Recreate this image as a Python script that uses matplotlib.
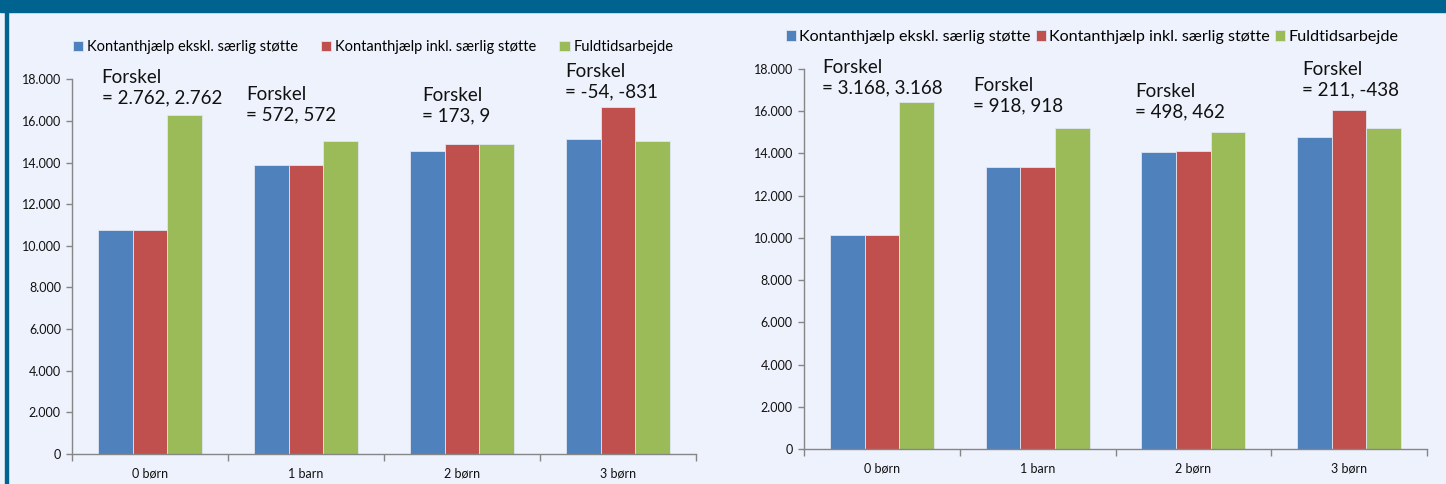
import matplotlib
matplotlib.use("Agg")
import matplotlib.pyplot as plt
from matplotlib.patches import Rectangle
from matplotlib.ticker import FuncFormatter
import numpy as np

plt.rcParams['font.family'] = ['Lato', 'DejaVu Sans']

categories = ["0 børn", "1 barn", "2 børn", "3 børn"]
series_names = ["Kontanthjælp ekskl. særlig støtte",
                "Kontanthjælp inkl. særlig støtte",
                "Fuldtidsarbejde"]
colors = ["#4F81BD", "#C0504D", "#9BBB59"]

# left chart values
left_ekskl = [10780, 13900, 14560, 15150]
left_inkl = [10780, 13900, 14890, 16690]
left_fuld = [16290, 15040, 14900, 15040]
left_notes = ["2.762, 2.762", "572, 572", "173, 9", "-54, -831"]

# right chart values
right_ekskl = [10140, 13370, 14080, 14770]
right_inkl = [10140, 13370, 14130, 16070]
right_fuld = [16440, 15200, 15040, 15200]
right_notes = ["3.168, 3.168", "918, 918", "498, 462", "211, -438"]

# annotation placement (x offset from category centre, y in data units)
left_note_pos = [(-0.31, 17610), (-0.385, 16770), (-0.256, 16720), (-0.34, 17900)]
right_note_pos = [(-0.384, 17600), (-0.415, 16745), (-0.375, 16440), (-0.303, 17480)]

BG = "#EEF2FC"
AXC = "#868686"


def thousands(v, _):
    return f"{int(v):,}".replace(",", ".")


def draw_chart(ax, values, notes, note_pos):
    x = np.arange(len(categories))
    w = 1 / 4.5
    bars = []
    for k, vals in enumerate(values):
        b = ax.bar(x + (k - 1) * w, vals, width=w, color=colors[k],
                   edgecolor="#dfe5f2", linewidth=0.6, label=series_names[k], zorder=2)
        bars.append(b)
    ax.set_xlim(-0.5, len(categories) - 0.5)
    ax.set_ylim(0, 18000)
    ax.set_facecolor(BG)
    for s in ("top", "right"):
        ax.spines[s].set_visible(False)
    for s in ("left", "bottom"):
        ax.spines[s].set_color(AXC)
        ax.spines[s].set_linewidth(1.0)
    ax.set_yticks(np.arange(0, 18001, 2000))
    ax.yaxis.set_major_formatter(FuncFormatter(thousands))
    ax.set_xticks(x)
    ax.set_xticklabels(categories)
    ax.set_xticks(np.arange(-0.5, len(categories)), minor=True)
    ax.tick_params(axis="x", which="major", length=0, pad=10, labelsize=9, colors="#111111")
    ax.tick_params(axis="x", which="minor", length=5, width=1, color=AXC)
    ax.tick_params(axis="y", length=4, width=1, color=AXC, pad=4, labelsize=9,
                   labelcolor="#111111")
    for i, (note, (dx, yy)) in enumerate(zip(notes, note_pos)):
        ax.text(i + dx, yy, f"Forskel\n= {note}", ha="left", va="center",
                fontsize=13.5, linespacing=1.25, color="#111111", clip_on=False)
    return bars


fig = plt.figure(figsize=(14.46, 4.84), dpi=100, facecolor=BG)

# frame of the original screenshot
fig.patches.append(Rectangle((0, 1 - 12 / 484), 1, 12 / 484, transform=fig.transFigure,
                             color="#00628F", zorder=0))
fig.patches.append(Rectangle((5 / 1446, 0), 3 / 1446, 1, transform=fig.transFigure,
                             color="#00628F", zorder=0))

ax1 = fig.add_axes([0.0498, 0.0624, 0.4315, 0.7736])
ax2 = fig.add_axes([0.556, 0.0723, 0.4309, 0.7851])

b1 = draw_chart(ax1, [left_ekskl, left_inkl, left_fuld], left_notes, left_note_pos)
b2 = draw_chart(ax2, [right_ekskl, right_inkl, right_fuld], right_notes, right_note_pos)

fig.legend(handles=b1, labels=series_names, loc="center", ncol=3,
           bbox_to_anchor=(373 / 1446, 1 - 47 / 484), frameon=False, fontsize=10.5,
           handlelength=0.7, handleheight=0.7, handletextpad=0.25, columnspacing=1.6,
           borderaxespad=0)
fig.legend(handles=b2, labels=series_names, loc="center", ncol=3,
           bbox_to_anchor=(1092 / 1446, 1 - 37 / 484), frameon=False, fontsize=11.6,
           handlelength=0.65, handleheight=0.65, handletextpad=0.2, columnspacing=0.3,
           borderaxespad=0)

fig.savefig("out.png", dpi=100, facecolor=BG)
